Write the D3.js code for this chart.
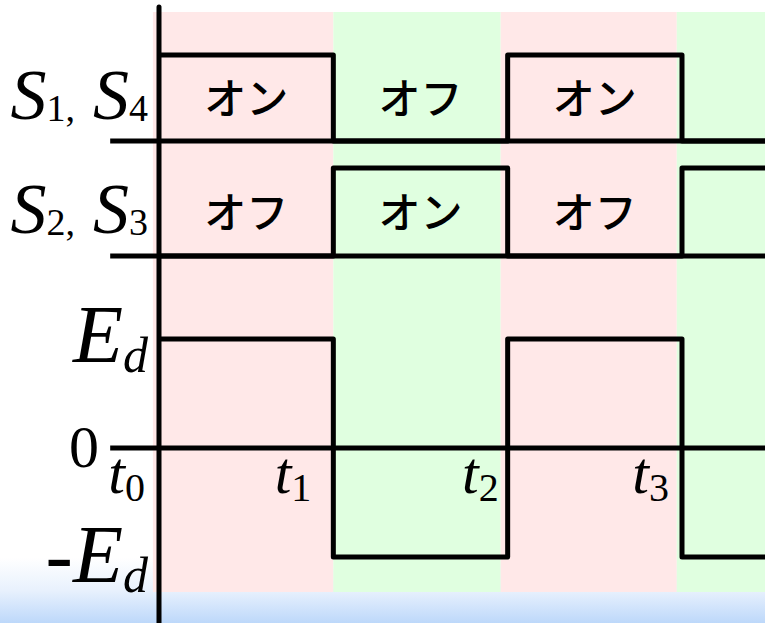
<!DOCTYPE html>
<html><head><meta charset="utf-8">
<script src="https://cdn.jsdelivr.net/npm/d3@7"></script>
<style>body{margin:0;background:#fff}svg{display:block}</style>
</head><body><svg id="c" width="765" height="623"></svg>
<script>
// ---- data ----
const switchTimes = [0, 1, 2, 3];            // t0..t3
const timeSubs = ["0", "1", "2", "3"];
const endTime = 3.5;
const bandEdges = [-0.035, 1.0, 1.96, 2.97, 3.5];
const bandKinds = ["on", "off", "on", "off"];
const s14States = [1, 0, 1, 0];              // S1,S4 per interval
const s23States = [0, 1, 0, 1];              // S2,S3 per interval
const outLevels = [1, -1, 1, -1];            // output voltage (×Ed)
const s14Text = ["オン", "オフ", "オン"];
const s23Text = ["オフ", "オン", "オフ"];

// ---- layout ----
const W = 765, H = 623;
const svg = d3.select("#c");
const x = d3.scaleLinear().domain([0, 3]).range([159, 682]);
const yRow1 = d3.scaleLinear().domain([0, 1]).range([141, 55]);
const yRow2 = d3.scaleLinear().domain([0, 1]).range([256, 168]);
const yOut = d3.scaleLinear().domain([-1, 1]).range([557, 339]);
const bandColor = {on: "#ffe8e8", off: "#e0ffe0"};

const defs = svg.append("defs");
const g = defs.append("linearGradient").attr("id", "bg").attr("x1", 0).attr("x2", 0).attr("y1", 0).attr("y2", 1);
g.append("stop").attr("offset", "0%").attr("stop-color", "#ffffff");
g.append("stop").attr("offset", "50%").attr("stop-color", "#e8f1fd");
g.append("stop").attr("offset", "100%").attr("stop-color", "#bdd8fa");
svg.append("rect").attr("x", 0).attr("y", 558).attr("width", W).attr("height", H - 558).attr("fill", "url(#bg)");

// bands
svg.append("g").selectAll("rect").data(bandKinds).join("rect")
  .attr("x", (d, i) => x(bandEdges[i]))
  .attr("width", (d, i) => x(bandEdges[i + 1]) - x(bandEdges[i]))
  .attr("y", 12).attr("height", 592 - 12)
  .attr("fill", d => bandColor[d]);

const lineStyle = sel => sel.attr("fill", "none").attr("stroke", "#000").attr("stroke-width", 5)
  .attr("stroke-linejoin", "round").attr("stroke-linecap", "butt");

// baselines
[yRow1(0), yRow2(0), yOut(0)].forEach(yy => {
  svg.append("line").attr("x1", x(-0.28)).attr("x2", x(endTime)).attr("y1", yy).attr("y2", yy).call(lineStyle);
});

// waveforms
function wave(states, ys) {
  const pts = states.map((s, i) => [switchTimes[i], s]);
  pts.push([endTime, states[states.length - 1]]);
  const line = d3.line().x(d => x(d[0])).y(d => ys(d[1])).curve(d3.curveStepAfter);
  svg.append("path").attr("d", line(pts)).call(lineStyle);
}
wave(s14States, yRow1);
wave(s23States, yRow2);
wave(outLevels, yOut);

// vertical axis
svg.append("line").attr("x1", x(0)).attr("x2", x(0)).attr("y1", 7).attr("y2", H)
  .attr("stroke", "#000").attr("stroke-width", 5).attr("stroke-linecap", "round");

// Japanese state labels
function stateText(texts, yc) {
  svg.append("g").selectAll("text").data(texts).join("text")
    .attr("x", (d, i) => (x(switchTimes[i]) + x(switchTimes[i + 1])) / 2)
    .attr("y", yc)
    .attr("text-anchor", "middle").attr("dominant-baseline", "central")
    .attr("font-family", "'Noto Sans CJK JP', sans-serif").attr("font-size", 42)
    .attr("font-weight", 500)
    .text(d => d);
}
stateText(s14Text, (yRow1(0) + yRow1(1)) / 2 - 3);
stateText(s23Text, (yRow2(0) + yRow2(1)) / 2 - 3);

// math labels
const serif = "'Liberation Serif', 'Times New Roman', serif";
function mathLabel(xEnd, yBase, parts, size) {
  const t = svg.append("text").attr("x", xEnd).attr("y", yBase).attr("text-anchor", "end")
    .attr("font-family", serif).attr("font-size", size);
  parts.forEach(p => {
    const s = t.append("tspan").text(p.t);
    if (p.i) s.attr("font-style", "italic");
    if (p.s) s.attr("font-size", p.s);
    if (p.dy) s.attr("dy", p.dy);
  });
}
mathLabel(148, 119, [{t: "S", i: 1}, {t: "1", s: 38, dy: 2}, {t: ",", s: 38}, {t: " ", dy: -2}, {t: "S", i: 1}, {t: "4", s: 38, dy: 2}], 72);
mathLabel(148, 233, [{t: "S", i: 1}, {t: "2", s: 38, dy: 2}, {t: ",", s: 38}, {t: " ", dy: -2}, {t: "S", i: 1}, {t: "3", s: 38, dy: 2}], 72);
mathLabel(148, 362, [{t: "E", i: 1}, {t: "d", i: 1, s: 50, dy: 10}], 82);
mathLabel(99, 467, [{t: "0"}], 60);
mathLabel(148, 582, [{t: "-"}, {t: "E", i: 1}, {t: "d", i: 1, s: 50, dy: 10}], 82);

// time labels
const nudge = [14, 22, 9, 13];
switchTimes.forEach((tt, i) => {
  mathLabel(x(tt) - nudge[i], 493, [{t: "t", i: 1}, {t: timeSubs[i], s: 40, dy: 8}], 60);
});
</script></body></html>
